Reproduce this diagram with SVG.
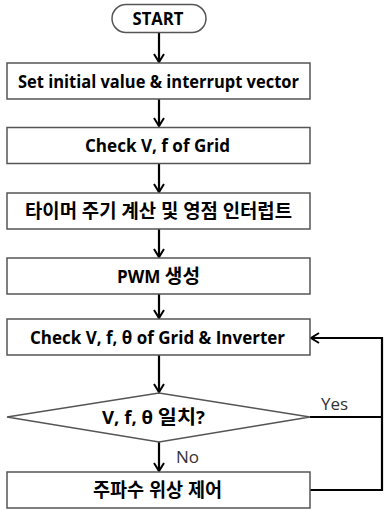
<svg xmlns="http://www.w3.org/2000/svg" width="384" height="510" viewBox="0 0 384 510">
<defs>
<marker id="ah" viewBox="0 0 12 12" refX="10" refY="6" markerWidth="12" markerHeight="12" markerUnits="userSpaceOnUse" orient="auto">
<path d="M2,1 L10,6 L2,11" fill="none" stroke="#000" stroke-width="2"/>
</marker>
<style>
.box{fill:#fff;stroke:#555;stroke-width:1.5}
.t{font-family:"Open Sans","Noto Sans CJK KR",sans-serif;font-weight:bold;font-size:17px;fill:#000;text-anchor:middle}
.k{font-size:19px}
.l{font-family:"Open Sans","Noto Sans CJK KR",sans-serif;font-size:17px;fill:#333}
.c{fill:none;stroke:#000;stroke-width:2.2}
</style>
</defs>
<rect width="384" height="510" fill="#fff"/>
<g id="connectors">
<path class="c" d="M159,32 V62" marker-end="url(#ah)"/>
<path class="c" d="M159,99 V126" marker-end="url(#ah)"/>
<path class="c" d="M159,164 V192" marker-end="url(#ah)"/>
<path class="c" d="M159,229 V257" marker-end="url(#ah)"/>
<path class="c" d="M159,294 V318" marker-end="url(#ah)"/>
<path class="c" d="M159,355 V392" marker-end="url(#ah)"/>
<path class="c" d="M159,442 V471" marker-end="url(#ah)"/>
<path class="c" d="M310,417 H382"/>
<path class="c" d="M310,490 H382 V338 H311" marker-end="url(#ah)"/>
<text class="l" x="321" y="410">Yes</text>
<text class="l" x="176" y="463">No</text>
</g>
<g id="start">
<rect class="box" x="112" y="4.5" width="94" height="28" rx="14"/>
<text class="t" x="158" y="24.5" style="font-size:18px" textLength="51" lengthAdjust="spacingAndGlyphs">START</text>
</g>
<g id="n1">
<rect class="box" x="7" y="63" width="303" height="36"/>
<text class="t" x="158.5" y="87.5" textLength="281" lengthAdjust="spacingAndGlyphs">Set initial value &amp; interrupt vector</text>
</g>
<g id="n2">
<rect class="box" x="7" y="127.5" width="303" height="36"/>
<text class="t" x="157.5" y="152" textLength="145" lengthAdjust="spacingAndGlyphs">Check V, f of Grid</text>
</g>
<g id="n3">
<rect class="box" x="7" y="193" width="303" height="36"/>
<text class="t k" x="158.5" y="217.5" textLength="267" lengthAdjust="spacingAndGlyphs">타이머 주기 계산 및 영점 인터럽트</text>
</g>
<g id="n4">
<rect class="box" x="7" y="258" width="303" height="36"/>
<text class="t" x="158.5" y="282.5" textLength="83" lengthAdjust="spacingAndGlyphs">PWM <tspan class="k">생성</tspan></text>
</g>
<g id="n5">
<rect class="box" x="7" y="319" width="303" height="36"/>
<text class="t" x="157.5" y="343.5" textLength="255" lengthAdjust="spacingAndGlyphs">Check V, f, θ of Grid &amp; Inverter</text>
</g>
<g id="d1">
<polygon class="box" points="7,417 159,393 310,417 159,442"/>
<text class="t" x="153.5" y="423.5" textLength="103" lengthAdjust="spacingAndGlyphs">V, f, θ <tspan class="k">일치</tspan>?</text>
</g>
<g id="n6">
<rect class="box" x="7" y="472" width="303" height="36"/>
<text class="t k" x="157.5" y="496.5" textLength="129" lengthAdjust="spacingAndGlyphs">주파수 위상 제어</text>
</g>
</svg>
